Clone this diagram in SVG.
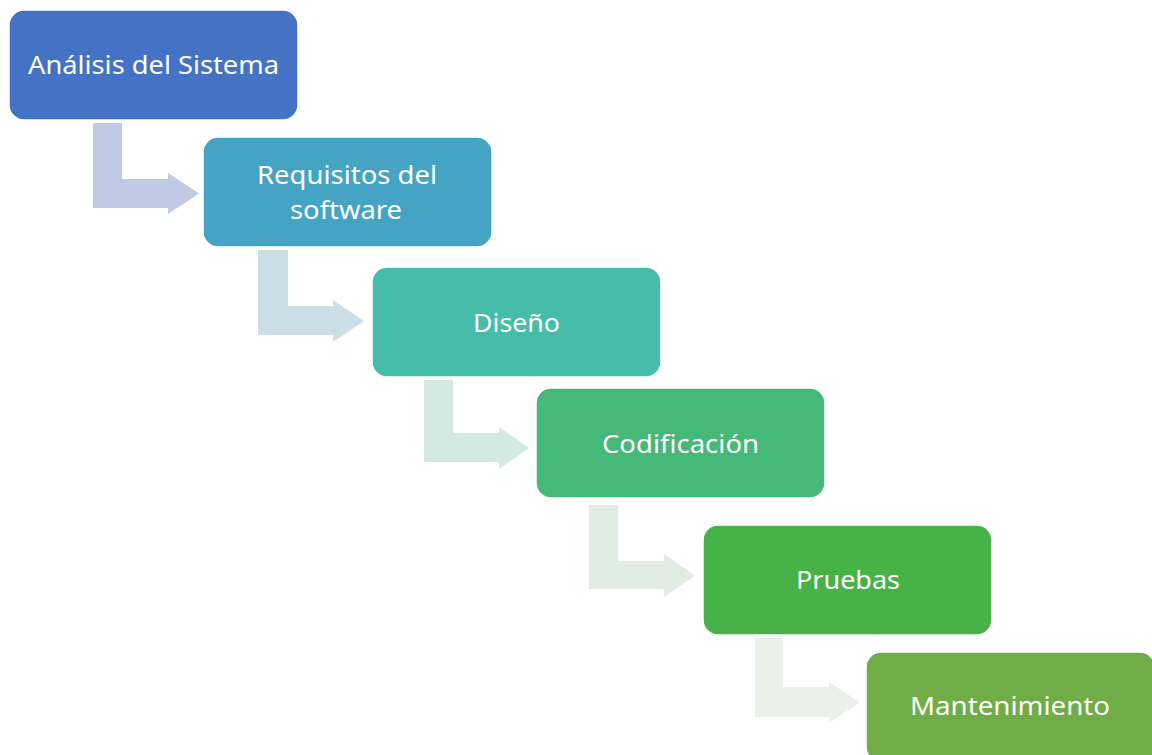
<svg xmlns="http://www.w3.org/2000/svg" width="1152" height="755" viewBox="0 0 1152 755">
<style>
.box{stroke:#ffffff;stroke-width:1.5}
.lbl{font-family:"Noto Sans","Open Sans",sans-serif;font-size:26px;fill:#ffffff;text-anchor:middle}
</style>
<rect width="1152" height="755" fill="#ffffff"/>
<g id="connectors">
<path d="M93,123 H122 V179 H168 V173 L199,193.5 L168,214 V208 H93 Z" fill="#C0CAE5"/>
<path d="M258,250 H288 V306 H333 V300 L364,321 L333,342 V335 H258 Z" fill="#CCDFE6"/>
<path d="M424,380 H453 V433 H499 V427 L529,448 L499,469 V462 H424 Z" fill="#D3EAE3"/>
<path d="M589,505 H618 V561 H664 V554 L695,575.5 L664,597 V589 H589 Z" fill="#DFEDE3"/>
<path d="M755,638 H783 V687 H829 V682 L860,702.5 L829,723 V717 H755 Z" fill="#EBF0E8"/>
</g>
<g id="n1"><rect class="box" x="9" y="10" width="289" height="110" rx="15" fill="#4472C4"/><text class="lbl" x="153.5" y="74" textLength="251" lengthAdjust="spacingAndGlyphs">Análisis del Sistema</text></g>
<g id="n2"><rect class="box" x="203" y="137" width="289" height="110" rx="15" fill="#45A4C3"/><text class="lbl" x="347" y="184" textLength="180" lengthAdjust="spacingAndGlyphs">Requisitos del</text><text class="lbl" x="346" y="219" textLength="112" lengthAdjust="spacingAndGlyphs">software</text></g>
<g id="n3"><rect class="box" x="372" y="267" width="289" height="110" rx="15" fill="#46BDA8"/><text class="lbl" x="516.5" y="332" textLength="87" lengthAdjust="spacingAndGlyphs">Diseño</text></g>
<g id="n4"><rect class="box" x="536" y="388" width="289" height="110" rx="15" fill="#46B878"/><text class="lbl" x="680.5" y="453" textLength="157" lengthAdjust="spacingAndGlyphs">Codificación</text></g>
<g id="n5"><rect class="box" x="703" y="525" width="289" height="110" rx="15" fill="#47B247"/><text class="lbl" x="848" y="589" textLength="104" lengthAdjust="spacingAndGlyphs">Pruebas</text></g>
<g id="n6"><rect class="box" x="866" y="652" width="289" height="110" rx="15" fill="#70AD47"/><text class="lbl" x="1010" y="715" textLength="200" lengthAdjust="spacingAndGlyphs">Mantenimiento</text></g>
</svg>
